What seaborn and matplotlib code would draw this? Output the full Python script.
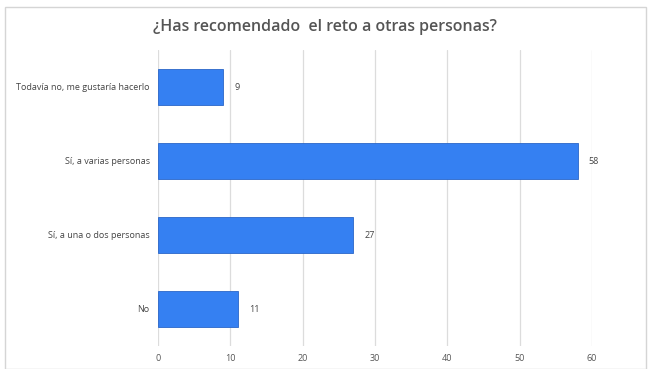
import numpy as np
import pandas as pd
import matplotlib
matplotlib.use('Agg')
from matplotlib import pyplot as plt
from matplotlib.patches import Rectangle
import seaborn as sns

# data
respuestas = ['Todavía no, me gustaría hacerlo', 'Sí, a varias personas',
              'Sí, a una o dos personas', 'No']
conteos = [9, 58, 27, 11]
titulo = '¿Has recomendado  el reto a otras personas?'

df = pd.DataFrame({'respuesta': respuestas, 'n': conteos})

sns.set_style('white')
plt.rcParams['font.family'] = ['Open Sans', 'DejaVu Sans']

fig = plt.figure(figsize=(6.5, 3.69), dpi=100)
ax = fig.add_axes([158/650, 1 - 346/369, (592-158)/650, (346-50)/369])

sns.barplot(data=df, x='n', y='respuesta', orient='h', color='#3580f2',
            width=0.49, ax=ax, edgecolor='#2a66c8', linewidth=0.6, saturation=1)

ax.set_xlim(0, 60)
ax.set_xticks(np.arange(0, 61, 10))
ax.xaxis.grid(True, color='#dcdcdc', linewidth=0.9)
ax.set_axisbelow(True)
for s in ax.spines.values():
    s.set_visible(False)
ax.set_xlabel('')
ax.set_ylabel('')
ax.tick_params(axis='x', labelsize=6.5, colors='#555555', length=0, pad=6)
ax.tick_params(axis='y', labelsize=6.5, colors='#444444', length=0, pad=6)

for i, v in enumerate(conteos):
    ax.annotate(str(v), (v, i), xytext=(8, 0), textcoords='offset points',
                va='center', ha='left', fontsize=6.5, color='#444444')

# outer frame of the chart
fig.patches.append(Rectangle((5/650, 0), (646-5)/650, 1 - 7/369, transform=fig.transFigure,
                             fill=False, edgecolor='#d5d5d5', linewidth=1.0))

fig.text(0.5, 1 - 27/369, titulo, ha='center', va='center', fontsize=11.5,
         color='#555555', fontweight='semibold')

fig.savefig('out.png', dpi=100)
